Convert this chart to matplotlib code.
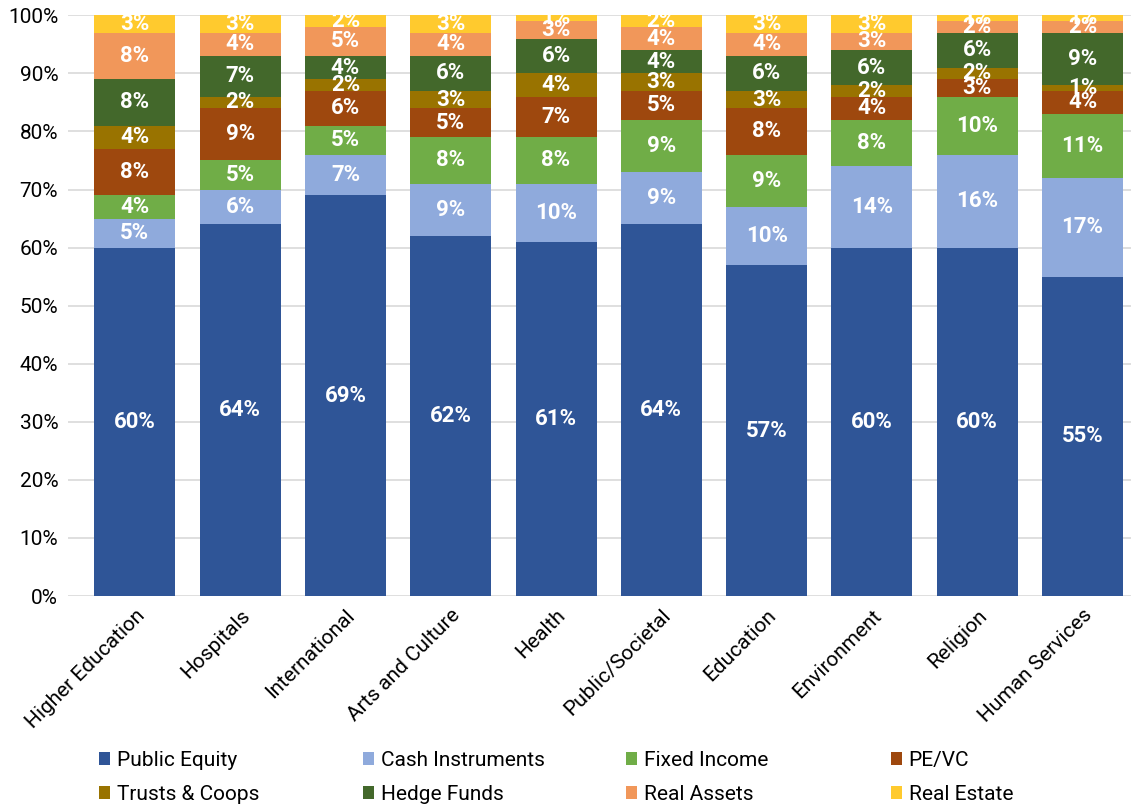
import matplotlib.pyplot as plt
import numpy as np

plt.rcParams['font.family'] = ['Roboto', 'DejaVu Sans']

categories = ['Higher Education', 'Hospitals', 'International', 'Arts and Culture', 'Health',
              'Public/Societal', 'Education', 'Environment', 'Religion', 'Human Services']
series_names = ['Public Equity', 'Cash Instruments', 'Fixed Income', 'PE/VC',
                'Trusts & Coops', 'Hedge Funds', 'Real Assets', 'Real Estate']

public_equity = [60, 64, 69, 62, 61, 64, 57, 60, 60, 55]
cash_instruments = [5, 6, 7, 9, 10, 9, 10, 14, 16, 17]
fixed_income = [4, 5, 5, 8, 8, 9, 9, 8, 10, 11]
pe_vc = [8, 9, 6, 5, 7, 5, 8, 4, 3, 4]
trusts_coops = [4, 2, 2, 3, 4, 3, 3, 2, 2, 1]
hedge_funds = [8, 7, 4, 6, 6, 4, 6, 6, 6, 9]
real_assets = [8, 4, 5, 4, 3, 4, 4, 3, 2, 2]
real_estate = [3, 3, 2, 3, 1, 2, 3, 3, 1, 1]

series = [public_equity, cash_instruments, fixed_income, pe_vc,
          trusts_coops, hedge_funds, real_assets, real_estate]
colors = ['#2F5597', '#8FAADC', '#70AD47', '#9E480E',
          '#997300', '#43682B', '#F1975A', '#FFCA2E']

fig = plt.figure(figsize=(11.31, 8.06), dpi=100)
ax = fig.add_axes([0.06, 0.2605, 0.94, 0.7205])

x = np.arange(len(categories))
bottom = np.zeros(len(categories))
for name, vals, c in zip(series_names, series, colors):
    vals = np.array(vals, dtype=float)
    ax.bar(x, vals, 0.77, bottom=bottom, color=c, label=name, zorder=2)
    for xi, b, v in zip(x, bottom, vals):
        ax.text(xi, b + v / 2, f'{int(v)}%', ha='center', va='center',
                color='white', fontsize=16, fontweight='bold', zorder=3)
    bottom += vals

ax.set_xlim(-0.636, 9.46)
ax.set_ylim(0, 100)
ax.set_yticks(range(0, 101, 10))
ax.set_yticklabels([f'{v}%' for v in range(0, 101, 10)], fontsize=15)
ax.set_xticks(x)
ax.set_xticklabels(categories, rotation=45, ha='right', rotation_mode='anchor', fontsize=15)
ax.tick_params(length=0, pad=7)
ax.grid(axis='y', color='#D9D9D9', linewidth=1.2, zorder=0)
for s in ax.spines.values():
    s.set_visible(False)

# one small legend per column so the columns are evenly spaced like the original
handles, labels = ax.get_legend_handles_labels()
col_x = [99, 363, 626, 891]
for j, px in enumerate(col_x):
    leg = fig.legend([handles[j], handles[j + 4]], [labels[j], labels[j + 4]],
                     loc='upper left', bbox_to_anchor=(px / 1131, 1 - 751 / 806),
                     frameon=False, fontsize=15, handlelength=0.55, handleheight=0.55,
                     handletextpad=0.3, labelspacing=0.72, borderpad=0, borderaxespad=0)

fig.savefig('out.png', dpi=100)
